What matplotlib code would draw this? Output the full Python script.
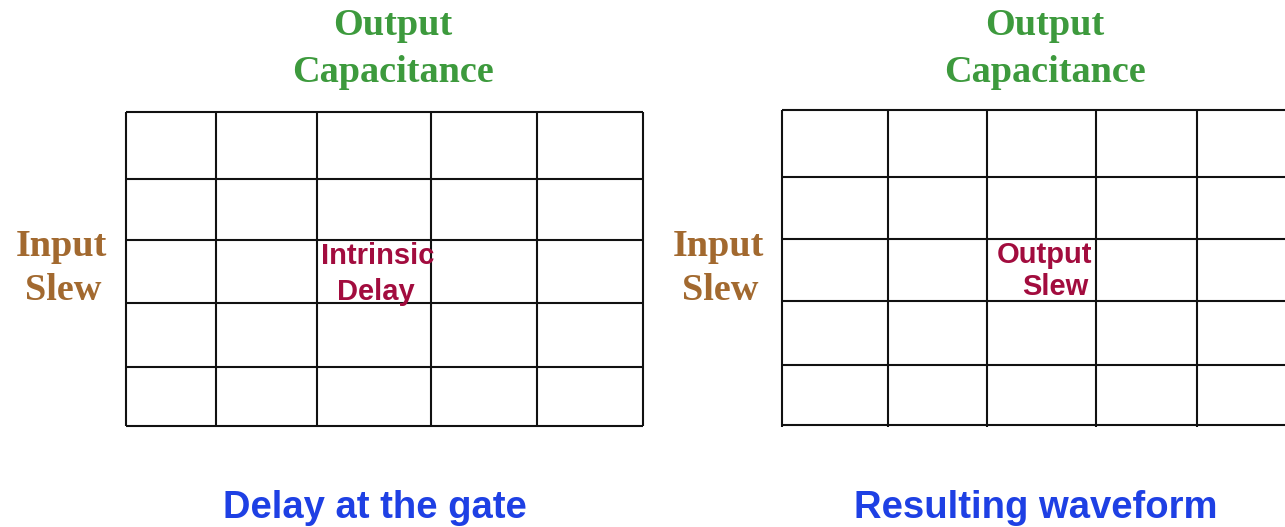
#------------------------------------------------------------------------------
# Two lookup tables: delay at the gate and resulting waveform
# (rows = input slew, columns = output capacitance)
#------------------------------------------------------------------------------

import matplotlib.pyplot as plt
import numpy as np

# Table contents / labels
panel_titles = ["Delay at the gate", "Resulting waveform"]
col_header   = ["Output", "Capacitance"]
row_header   = ["Input", "Slew"]
cell_labels  = [["Intrinsic", "Delay"], ["Output", "Slew"]]

# Cell sizes (pixels)
col_widths  = [[90.5, 101, 114, 106, 105.5], [106, 98.5, 109.5, 101, 103]]
row_heights = [[67, 61.8, 62.2, 64.5, 59], [67.7, 61.8, 61.8, 64, 59.7]]

# Layout
origin   = [(125.5, 111.5), (782, 109.5)]   # top-left corner of each table
head_x   = [393, 1045]                       # centre of column header
side_x   = [61, 718]                         # centre of row header
title_x  = [375, 1036]

green = "#3d9a3d"
brown = "#a2692f"
red   = "#a20c3e"
blue  = "#1e40e4"

fig = plt.figure(figsize=(12.85, 5.27), dpi=100)
ax = fig.add_axes([0, 0, 1, 1])
ax.set_xlim(0, 1285)
ax.set_ylim(527, 0)
ax.axis("off")

serif = "Liberation Serif"
sans = "Liberation Sans"

for k in range(2):
    x0, y0 = origin[k]
    xs = x0 + np.concatenate([[0], np.cumsum(col_widths[k])])
    ys = y0 + np.concatenate([[0], np.cumsum(row_heights[k])])
    ext = 0 if k == 0 else 2.5
    ax.vlines(xs, ys[0], ys[-1] + ext, color="#111111", lw=1.5)
    ax.hlines(ys, xs[0], xs[-1], color="#111111", lw=1.5)

    # column header
    ax.text(head_x[k], 35, col_header[0], ha="center", va="baseline",
            fontsize=27.5, fontweight="bold", family=serif, color=green)
    ax.text(head_x[k], 81.5, col_header[1], ha="center", va="baseline",
            fontsize=27.5, fontweight="bold", family=serif, color=green)

    # row header
    ax.text(side_x[k], 255.5, row_header[0], ha="center", va="baseline",
            fontsize=27.5, fontweight="bold", family=serif, color=brown)
    ax.text(side_x[k] + 2, 300, row_header[1], ha="center", va="baseline",
            fontsize=27.5, fontweight="bold", family=serif, color=brown)

    # title under the table
    ax.text(title_x[k], 518, panel_titles[k], ha="center", va="baseline",
            fontsize=27.5, fontweight="bold", family=sans, color=blue)

# labels in the middle cell
ax.text(378, 263.5, cell_labels[0][0], ha="center", va="baseline",
        fontsize=21, fontweight="bold", family=sans, color=red)
ax.text(376, 300.5, cell_labels[0][1], ha="center", va="baseline",
        fontsize=21, fontweight="bold", family=sans, color=red)
ax.text(1092, 263, cell_labels[1][0], ha="right", va="baseline",
        fontsize=21, fontweight="bold", family=sans, color=red)
ax.text(1088, 295, cell_labels[1][1], ha="right", va="baseline",
        fontsize=21, fontweight="bold", family=sans, color=red)

plt.savefig("out.png", dpi=100)
